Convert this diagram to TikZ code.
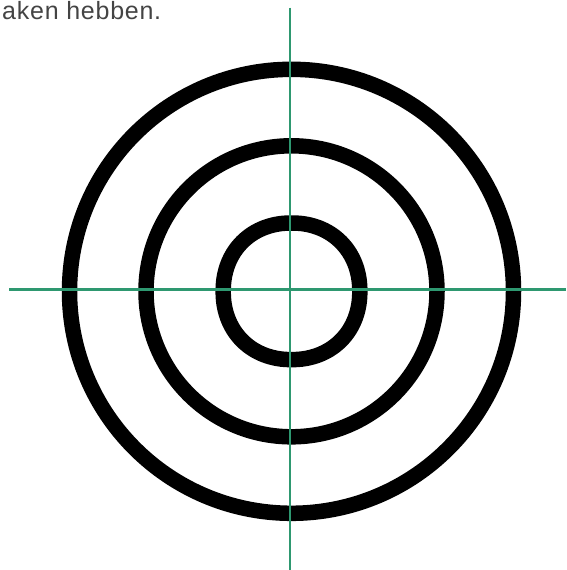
\documentclass[tikz,border=0pt]{standalone}
\usepackage{fontspec}
\setmainfont{Liberation Sans}
\newfontfamily\notefont[LetterSpace=3]{Liberation Sans}
\usetikzlibrary{positioning}
\definecolor{tgaxis}{RGB}{46,152,112}
\definecolor{tgtext}{RGB}{68,68,68}

\begin{document}
\begin{tikzpicture}[
    x=1pt, y=-1pt,
    ring/.style={draw=black, line width=15.5pt},
    axis/.style={draw=tgaxis, line width=2.8pt},
    note/.style={anchor=base west, inner sep=0pt, text=tgtext, font=\notefont\fontsize{25}{30}\selectfont}
]
\useasboundingbox (0,0) rectangle (566,570);
\coordinate (mid) at (291.5,291.3);
\coordinate (top) at (290,7.5);
\coordinate (bottom) at (290,570);
\coordinate (left) at (9,289.5);
\coordinate (right) at (566,289.5);
\node[note] (text) at (2,19) {aken hebben.};
% rings
\draw[ring] (mid) circle[radius=222];
\draw[ring] (mid) circle[radius=145.5];
\draw[ring, shift={(mid)}] plot[domain=2.5:357.5, samples=72, smooth cycle]
    ({68.3*sign(cos(\x))*pow(abs(cos(\x)),0.94)}, {68.3*sign(sin(\x))*pow(abs(sin(\x)),0.94)});
% cross hair
\draw[axis] (top) -- (bottom);
\draw[axis] (left) -- (right);
\end{tikzpicture}
\end{document}
